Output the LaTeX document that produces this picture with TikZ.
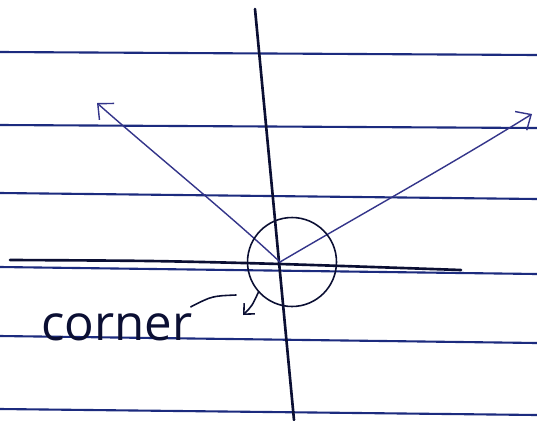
\documentclass[tikz,border=0pt]{standalone}
\usepackage{fontspec}
\setmainfont{Open Sans}
\usetikzlibrary{positioning, arrows.meta}
\definecolor{ruleBlue}{HTML}{1C2B7E}
\definecolor{axisInk}{HTML}{0B0F33}
\definecolor{penBlue}{HTML}{34358A}

\begin{document}
\begin{tikzpicture}[x=0.02cm, y=-0.02cm,
    rule/.style={ruleBlue, line width=1.2pt},
    axis/.style={axisInk, line width=1.5pt, line cap=round},
    branch/.style={penBlue, line width=0.8pt, line cap=round,
      -{Straight Barb[length=2.4mm, width=4.4mm]}},
    ink/.style={axisInk, line width=0.9pt, line cap=round},
    ring/.style={circle, draw=axisInk, line width=0.9pt,
      minimum size=1.78cm, inner sep=0pt}]
    \useasboundingbox[fill=white] (0,0) rectangle (537,420);
    % ---- notebook rules ----
    \foreach \yl/\yr in {52/55, 125/128, 193/199, 267/274, 336/343, 409/415}
      \draw[rule] (0,\yl) -- (537,\yr);
    % ---- axes ----
    \draw[axis] plot[smooth] coordinates
      {(10,260) (150,261) (280,264) (461,270)};
    \draw[axis] (255,9) -- (294,420);
    % ---- the two branches ----
    \coordinate (vertex) at (280,262);
    \coordinate (ltip) at (97,103);
    \coordinate (rtip) at (532,114);
    \draw[branch] (vertex) .. controls (230,215) and (150,150) .. (ltip);
    \draw[branch] (vertex) .. controls (360,215) and (450,165) .. (rtip);
    % ---- corner mark ----
    \node[ring] (corner ring) at (292,262) {};
    \node[font=\fontsize{28}{34}\selectfont, text=axisInk, anchor=base west,
      inner sep=0pt] (corner lbl) at (41,340) {corner};
    \draw[ink] ([shift={(-2,-6)}]corner lbl.north east)
      .. controls (212,296) .. (236,295);
    \coordinate (ctip) at (243,315);
    \draw[ink, -{Straight Barb[length=1.6mm, width=3mm]}]
      (corner ring.222) .. controls (252,306) .. (ctip);
  \end{tikzpicture}
\end{document}
